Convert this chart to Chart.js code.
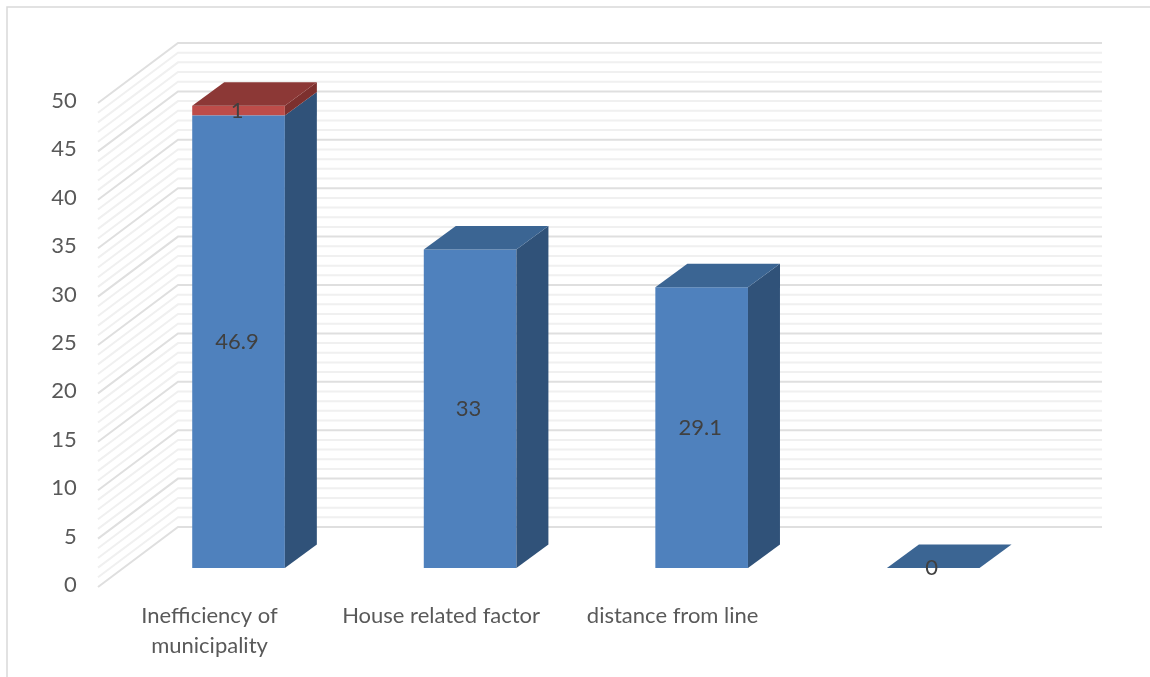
<!DOCTYPE html>
<html lang="en">
<head>
    <meta charset="UTF-8">
    <title>Stacked 3D column chart</title>
    <script src="https://cdn.jsdelivr.net/npm/chart.js"></script>
    <style>
        html, body { margin: 0; padding: 0; background: #fff; overflow: hidden; }
        canvas { display: block; }
    </style>
</head>
<body>
    <canvas id="myChart" width="1150" height="677"></canvas>

    <script>
        const categories = [['Inefficiency of', 'municipality'], 'House related factor', 'distance from line', ''];
        const series1Values = [46.9, 33, 29.1, 0];
        const series2Values = [1, null, null, null];
        const axisTicks = [0, 5, 10, 15, 20, 25, 30, 35, 40, 45, 50];

        const FONT = 'Lato, "Open Sans", sans-serif';
        // depth of the back wall and of the columns, in pixels
        const wallDepth = { x: 80, y: 60 };
        const barDepth = { x: 32, y: 23.5 };
        const barColors = [
            { front: '#4f81bd', top: '#3b6593', side: '#305279' },
            { front: '#bd4c49', top: '#8c3836', side: '#7d302e' }
        ];

        function face(ctx, points, color) {
            ctx.fillStyle = color;
            ctx.beginPath();
            points.forEach((p, i) => i ? ctx.lineTo(p[0], p[1]) : ctx.moveTo(p[0], p[1]));
            ctx.closePath();
            ctx.fill();
        }

        // outer frame, only the top and left edges are there
        const framePlugin = {
            id: 'frame',
            beforeDraw(chart) {
                const ctx = chart.ctx;
                ctx.save();
                ctx.strokeStyle = '#d9d9d9';
                ctx.lineWidth = 1.5;
                ctx.beginPath();
                ctx.moveTo(7, 677);
                ctx.lineTo(7, 7);
                ctx.lineTo(1150, 7);
                ctx.stroke();
                ctx.restore();
            }
        };

        // back wall and side wall gridlines, one per unit with a stronger one every 5
        const wallPlugin = {
            id: 'wall',
            beforeDatasetsDraw(chart) {
                const ctx = chart.ctx;
                const y = chart.scales.y;
                const backX = 178;
                const endX = 1102;
                ctx.save();
                ctx.lineWidth = 2;
                for (let v = y.min; v <= y.max; v++) {
                    if (v % 5 === 0) continue;
                    drawWallLine(ctx, y.getPixelForValue(v) - wallDepth.y, backX, endX, '#f0f0f0');
                }
                axisTicks.forEach(v => {
                    drawWallLine(ctx, y.getPixelForValue(v) - wallDepth.y, backX, endX, '#dfdfdf');
                });
                ctx.restore();
            }
        };

        function drawWallLine(ctx, py, backX, endX, color) {
            ctx.strokeStyle = color;
            ctx.beginPath();
            ctx.moveTo(backX - wallDepth.x, py + wallDepth.y);
            ctx.lineTo(backX, py);
            ctx.lineTo(endX, py);
            ctx.stroke();
        }

        // side and top faces of each column, then the value labels
        const columnPlugin = {
            id: 'columns',
            afterDatasetsDraw(chart) {
                const ctx = chart.ctx;
                const d = barDepth;
                ctx.save();
                chart.data.datasets.forEach((ds, di) => {
                    const colors = barColors[di];
                    chart.getDatasetMeta(di).data.forEach((bar, i) => {
                        if (ds.data[i] === null) return;
                        const left = bar.x - bar.width / 2;
                        const right = bar.x + bar.width / 2;
                        face(ctx, [[right, bar.base], [right + d.x, bar.base - d.y], [right + d.x, bar.y - d.y], [right, bar.y]], colors.side);
                        const above = chart.data.datasets[di + 1];
                        if (!above || above.data[i] === null) {
                            face(ctx, [[left, bar.y], [left + d.x, bar.y - d.y], [right + d.x, bar.y - d.y], [right, bar.y]], colors.top);
                        }
                    });
                });
                ctx.fillStyle = '#404040';
                ctx.font = '22px ' + FONT;
                ctx.textAlign = 'center';
                ctx.textBaseline = 'middle';
                chart.data.datasets.forEach((ds, di) => {
                    chart.getDatasetMeta(di).data.forEach((bar, i) => {
                        if (ds.data[i] === null) return;
                        ctx.fillText(String(ds.data[i]), bar.x - 1.5, (bar.y + bar.base) / 2);
                    });
                });
                ctx.restore();
            }
        };

        new Chart(document.getElementById('myChart').getContext('2d'), {
            type: 'bar',
            data: {
                labels: categories,
                datasets: [
                    { label: 'Series1', data: series1Values, backgroundColor: barColors[0].front, yAxisID: 'yBar', stack: 's' },
                    { label: 'Series2', data: series2Values, backgroundColor: barColors[1].front, yAxisID: 'yBar', stack: 's' }
                ]
            },
            options: {
                responsive: false,
                animation: false,
                layout: { padding: { left: 0, right: 101, top: 103, bottom: 0 } },
                datasets: { bar: { categoryPercentage: 1, barPercentage: 0.4, borderWidth: 0 } },
                scales: {
                    x: {
                        stacked: true,
                        grid: { display: false },
                        border: { display: false },
                        afterFit(scale) { scale.height = 90; },
                        ticks: {
                            autoSkip: false,
                            maxRotation: 0,
                            padding: 6,
                            labelOffset: -29,
                            color: '#595959',
                            font: { family: FONT, size: 22, lineHeight: 1.364 }
                        }
                    },
                    // axis labels and walls
                    y: {
                        min: 0,
                        max: 50,
                        afterFit(scale) { scale.width = 122.75; },
                        afterBuildTicks(scale) { scale.ticks = axisTicks.map(value => ({ value })); },
                        grid: { display: false },
                        border: { display: false },
                        ticks: {
                            padding: 38,
                            labelOffset: -2,
                            color: '#595959',
                            font: { family: FONT, size: 22 }
                        }
                    },
                    // columns stand in front of the wall, so they get their own zero line
                    yBar: {
                        display: false,
                        stacked: true,
                        min: -1.969,
                        max: 48.19
                    }
                },
                plugins: {
                    legend: { display: false },
                    tooltip: { enabled: false }
                }
            },
            plugins: [framePlugin, wallPlugin, columnPlugin]
        });
    </script>
</body>
</html>
